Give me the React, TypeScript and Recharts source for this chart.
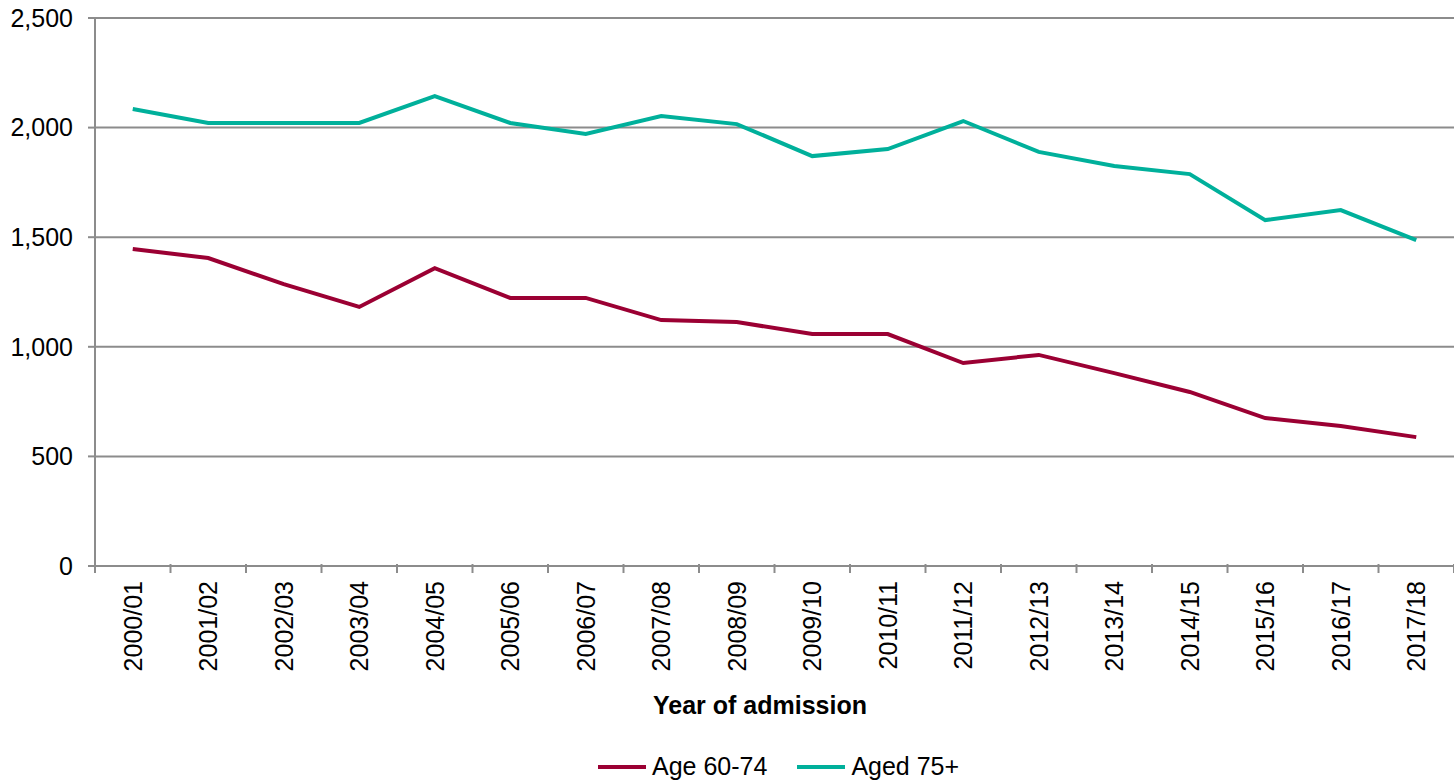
import { LineChart, Line, XAxis, YAxis, CartesianGrid, Label } from 'recharts'

const categories = [
  '2000/01', '2001/02', '2002/03', '2003/04', '2004/05', '2005/06',
  '2006/07', '2007/08', '2008/09', '2009/10', '2010/11', '2011/12',
  '2012/13', '2013/14', '2014/15', '2015/16', '2016/17', '2017/18',
]

const age6074 = [
  1446, 1405, 1286, 1182, 1359, 1223, 1223, 1122, 1113,
  1058, 1058, 926, 963, 880, 794, 675, 639, 588,
]

const aged75 = [
  2085, 2021, 2021, 2021, 2144, 2021, 1971, 2053, 2016,
  1870, 1902, 2030, 1889, 1825, 1788, 1578, 1624, 1487,
]

const yTicks = [0, 500, 1000, 1500, 2000, 2500]

const MAROON = '#9b0033'
const TEAL = '#00b09b'
const GRID = '#8c8c8c'
const FONT = '"Liberation Sans", Arial, sans-serif'
const FS = 25

// each year sits in the middle of its slot on a numeric axis 0..n
const data = categories.map((year, i) => ({
  year,
  pos: i + 0.5,
  age6074: age6074[i],
  aged75: aged75[i],
}))

// integer ticks = slot edges (tick marks), half ticks = labels
const xTicks: number[] = []
for (let i = 0; i <= categories.length; i++) {
  xTicks.push(i)
  if (i < categories.length) xTicks.push(i + 0.5)
}

const legendItems = [
  { label: 'Age 60-74', color: MAROON },
  { label: 'Aged 75+', color: TEAL },
]

function YearTick(props: any) {
  const { x, y, payload } = props
  const v = payload.value as number
  if (Number.isInteger(v)) {
    return <line x1={x} x2={x} y1={y - 2} y2={y + 7} stroke={GRID} strokeWidth={2} />
  }
  return (
    <text
      transform={`translate(${x},${y + 15}) rotate(-90)`}
      textAnchor="end"
      dominantBaseline="central"
      fontSize={FS}
      fontFamily={FONT}
      fill="#000"
    >
      {categories[Math.floor(v)]}
    </text>
  )
}

export default function App() {
  return (
    <div style={{ position: 'absolute', left: 0, top: 0, width: 1454, height: 782, background: '#fff' }}>
      <LineChart
        width={1454}
        height={782}
        data={data}
        margin={{ top: 18, right: 0, left: 0, bottom: 66 }}
      >
        <CartesianGrid vertical={false} stroke={GRID} strokeWidth={2} />
        <XAxis
          dataKey="pos"
          type="number"
          domain={[0, categories.length]}
          ticks={xTicks}
          interval={0}
          allowDataOverflow
          height={150}
          tickLine={false}
          tickSize={0}
          tickMargin={0}
          tick={<YearTick />}
          stroke={GRID}
          strokeWidth={2}
        >
          <Label
            content={(p: any) => (
              <text
                x={760}
                y={p.viewBox.y + 148}
                textAnchor="middle"
                fontSize={FS}
                fontWeight="bold"
                fontFamily={FONT}
                fill="#000"
              >
                Year of admission
              </text>
            )}
          />
        </XAxis>
        <YAxis
          width={95}
          domain={[0, 2500]}
          ticks={yTicks}
          tickFormatter={(v: number) => v.toLocaleString('en-US')}
          tick={{ fontSize: FS, fontFamily: FONT, fill: '#000' }}
          tickSize={7}
          tickMargin={15}
          stroke={GRID}
          strokeWidth={2}
        />
        <Line
          dataKey="age6074"
          name="Age 60-74"
          stroke={MAROON}
          strokeWidth={4}
          dot={false}
          isAnimationActive={false}
        />
        <Line
          dataKey="aged75"
          name="Aged 75+"
          stroke={TEAL}
          strokeWidth={4}
          dot={false}
          isAnimationActive={false}
        />
      </LineChart>
      <div
        style={{
          position: 'absolute',
          left: 598,
          top: 752,
          display: 'flex',
          gap: 30,
          fontFamily: FONT,
          fontSize: FS,
        }}
      >
        {legendItems.map((it) => (
          <div key={it.label} style={{ display: 'flex', alignItems: 'center', gap: 6 }}>
            <span style={{ width: 48, height: 4, background: it.color, display: 'inline-block' }} />
            <span>{it.label}</span>
          </div>
        ))}
      </div>
    </div>
  )
}
